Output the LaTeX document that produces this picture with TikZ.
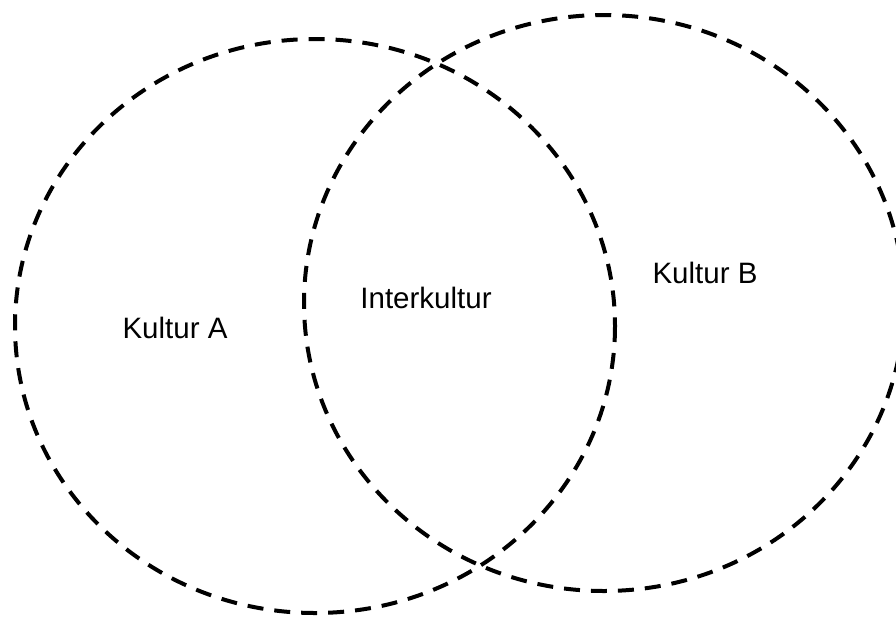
\documentclass[tikz,border=0pt]{standalone}
\usepackage{fontspec}
\setmainfont{Liberation Sans}
\begin{document}
\begin{tikzpicture}[x=1pt,y=-1pt,
  culture/.style={draw=black,line width=4pt,dash pattern=on 16pt off 11pt},
  label/.style={anchor=base,inner sep=0pt,font=\fontsize{29.5}{34}\selectfont}]
  \useasboundingbox (0,0) rectangle (896,616);
  \begin{scope}
    \clip (0,0) rectangle (896,616);
    \draw[culture] (315,326) ellipse [x radius=300, y radius=287];
    \draw[culture] (604,303) ellipse [x radius=300, y radius=288];
  \end{scope}
  \node[label] (a) at (175,338) {Kultur A};
  \node[label] (i) at (426,308) {Interkultur};
  \node[label] (b) at (705,283) {Kultur B};
\end{tikzpicture}
\end{document}
